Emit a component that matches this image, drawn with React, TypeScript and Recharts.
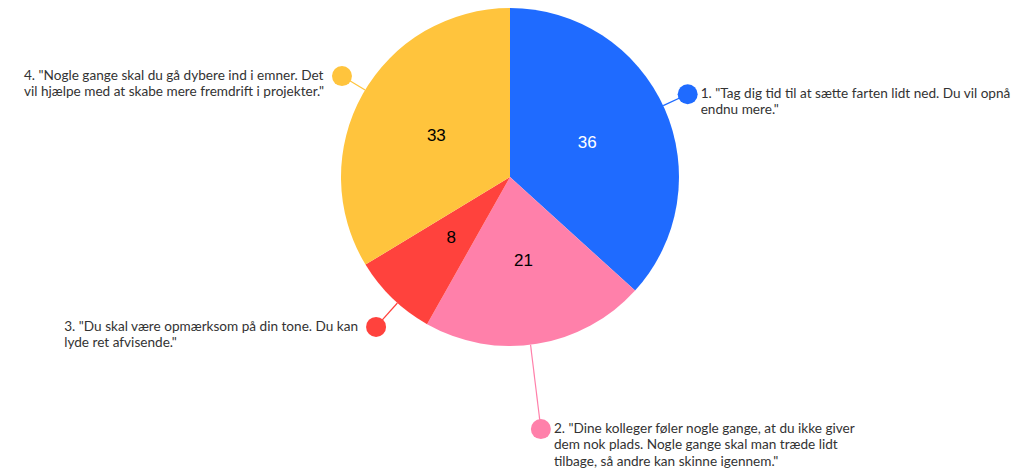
import React from "react"
import { PieChart, Pie, Cell } from "recharts"

const categories = [
  ['1. "Tag dig tid til at sætte farten lidt ned. Du vil opnå', 'endnu mere."'],
  ['2. "Dine kolleger føler nogle gange, at du ikke giver', 'dem nok plads. Nogle gange skal man træde lidt', 'tilbage, så andre kan skinne igennem."'],
  ['3. "Du skal være opmærksom på din tone. Du kan', 'lyde ret afvisende."'],
  ['4. "Nogle gange skal du gå dybere ind i emner. Det', 'vil hjælpe med at skabe mere fremdrift i projekter."'],
]
const values = [36, 21, 8, 33]
const colors = ["#1f6bff", "#ff80aa", "#ff423d", "#ffc43d"]
const numberColors = ["#ffffff", "#000000", "#000000", "#000000"]
// label dot placement: distance outside the pie and small angle nudge, per slice
const dotOffsets = [27, 85, 32, 27]
const angleNudges = [1.1, -2.2, 2.3, -1.6]

const data = values.map((v, i) => ({ name: categories[i].join(" "), value: v }))

const RAD = Math.PI / 180
const FONT = "Lato, 'Noto Sans', sans-serif"

const renderLabel = (props: any) => {
  const { cx, cy, midAngle, outerRadius, index, value } = props
  const nc = Math.cos(-midAngle * RAD)
  const ns = Math.sin(-midAngle * RAD)
  const inR = outerRadius * 0.5
  const nx = cx + inR * nc
  const ny = cy + inR * ns
  const a = midAngle + angleNudges[index]
  const cos = Math.cos(-a * RAD)
  const sin = Math.sin(-a * RAD)
  const sx = cx + outerRadius * cos
  const sy = cy + outerRadius * sin
  const dr = outerRadius + dotOffsets[index]
  const dx = cx + dr * cos
  const dy = cy + dr * sin
  const right = cos >= 0
  const boxW = 340
  const lineH = 16.5
  const lines = categories[index]
  const fx = right ? dx + 13 : dx - 18 - boxW
  return (
    <g>
      <text x={nx} y={ny} fill={numberColors[index]} textAnchor="middle" dominantBaseline="central"
        style={{ fontFamily: "'Liberation Sans', Arial, sans-serif", fontSize: 17 }}>
        {value}
      </text>
      <line x1={sx} y1={sy} x2={dx} y2={dy} stroke={colors[index]} strokeWidth={1.2} />
      <circle cx={dx} cy={dy} r={10} fill={colors[index]} />
      <foreignObject x={fx} y={dy - lineH / 2 - 1} width={boxW} height={lineH * lines.length + 4}>
        <div style={{ display: "flex", justifyContent: right ? "flex-start" : "flex-end", width: boxW }}>
          <div style={{ fontFamily: FONT, fontSize: 13.6, lineHeight: `${lineH}px`, color: "#333", whiteSpace: "nowrap", textAlign: "left" }}>
            {lines.map((l, i) => <div key={i}>{l}</div>)}
          </div>
        </div>
      </foreignObject>
    </g>
  )
}

export default function App() {
  return (
    <div style={{ position: "absolute", left: 0, top: 0, width: 1015, height: 469, background: "#fff" }}>
      <PieChart width={1015} height={469} margin={{ top: 0, right: 0, bottom: 0, left: 0 }}>
        <Pie
          data={data}
          dataKey="value"
          nameKey="name"
          cx={510}
          cy={177}
          outerRadius={169}
          startAngle={90}
          endAngle={-270}
          stroke="none"
          label={renderLabel}
          labelLine={false}
          isAnimationActive={false}
        >
          {data.map((d, i) => <Cell key={d.name} fill={colors[i]} />)}
        </Pie>
      </PieChart>
    </div>
  )
}
